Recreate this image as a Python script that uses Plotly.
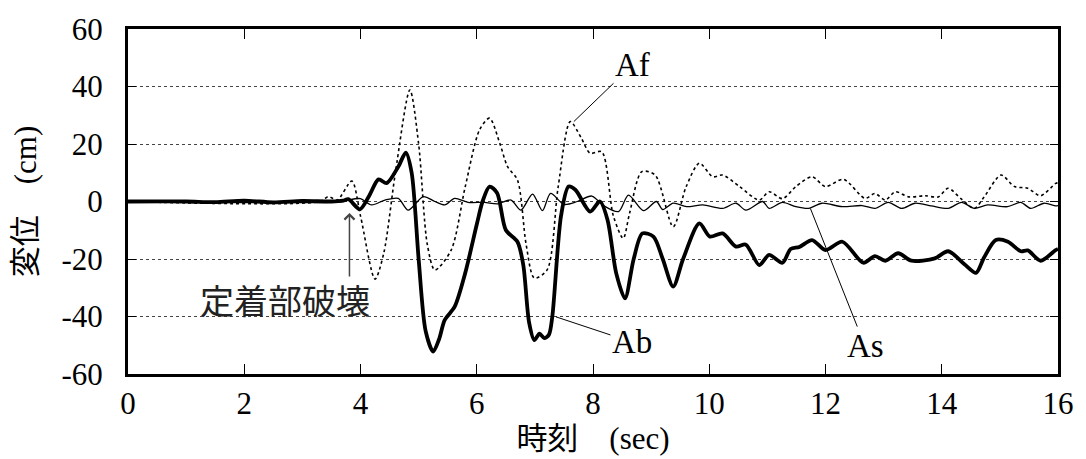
import plotly.graph_objects as go

# ---- data (time in sec, displacement in cm) ----
ab_t = [0, 1.0, 1.5, 2.0, 2.5, 3.0, 3.5, 3.7, 3.79, 3.99, 4.15, 4.31, 4.45, 4.65, 4.78, 4.88, 5.0, 5.12,
        5.25, 5.35, 5.45, 5.62, 5.8, 6.0, 6.1, 6.22, 6.35, 6.5, 6.7, 6.8, 6.9, 6.99, 7.08, 7.16, 7.24,
        7.3, 7.45, 7.58, 7.7, 7.95, 8.12, 8.25, 8.4, 8.55, 8.7, 8.85, 9.04, 9.2, 9.38, 9.55, 9.83,
        10.01, 10.23, 10.46, 10.63, 10.86, 11.03, 11.26, 11.4, 11.55, 11.77, 12.0, 12.29, 12.65, 12.85,
        13.03, 13.25, 13.48, 13.88, 14.11, 14.39, 14.59, 14.73, 14.93, 15.14, 15.36, 15.48, 15.7, 15.96, 16.0]
ab_v = [0, 0, -0.2, 0.3, -0.3, 0.2, 0, 0.3, 0.8, -2.7, 2, 7.7, 6.4, 12.1, 17, 10, -20, -45,
        -52.2, -48, -41.2, -36.6, -25, -8, 0, 5.2, 3, -9.9, -14, -22, -42, -48.2, -46, -47.5, -46.4,
        -40, -5, 5.2, 4, -3.5, 0, -6.4, -25, -33.7, -20, -11.1, -12.2, -20, -29.6, -20, -7.6,
        -12.2, -11.1, -15.7, -15, -22.1, -18.6, -21.3, -16.5, -15.8, -13.4, -16.9, -14, -21.3, -19,
        -20.6, -18, -20.6, -19.8, -17.3, -21.8, -24.8, -19.4, -13.4, -14, -17.3, -17, -20.6, -16.9, -16.5]

af_t = [0, 3.3, 3.45, 3.6, 3.85, 4.0, 4.25, 4.4, 4.6, 4.85, 5.0, 5.15, 5.28, 5.56, 5.8, 6.05, 6.22,
        6.4, 6.53, 6.7, 6.85, 6.99, 7.21, 7.4, 7.61, 7.8, 7.95, 8.15, 8.35, 8.52, 8.63, 8.84, 9.07,
        9.38, 9.6, 9.83, 10.06, 10.23, 10.52, 10.86, 11.03, 11.26, 11.49, 11.77, 12.0, 12.31, 12.68,
        12.85, 13.03, 13.2, 13.43, 13.71, 13.94, 14.11, 14.34, 14.56, 14.73, 15.02, 15.25, 15.48,
        15.7, 15.96, 16.0]
af_v = [0, 0, 1.7, 0.5, 7.1, -5, -27, -18, 10, 38.8, 20, -15, -23.8, -16.9, 5, 25, 29,
        20, 12.1, 7.5, -15, -26.6, -23.8, 5, 27.8, 22, 16.8, 17.3, -5, -12.8, -4, 10.4, 9.2,
        -8.8, 5, 13.3, 8.6, 9.2, 5.2, 0.5, 3.4, 1, 5.2, 8.6, 5.2, 7.7, 1.1,
        2.8, 0.5, 3.4, 1.6, 2, 1.6, 4.6, 0.8, -2.4, 1.6, 9.2, 5.2, 4.6,
        2, 6.3, 6.5]

as_t = [0, 3.7, 3.79, 4.0, 4.19, 4.42, 4.65, 4.82, 5.08, 5.28, 5.45, 5.62, 5.85, 6.13, 6.36, 6.59,
        6.76, 6.96, 7.13, 7.27, 7.5, 7.73, 7.98, 8.18, 8.44, 8.61, 8.87, 9.09, 9.2, 9.38, 9.61, 9.89,
        10.23, 10.46, 10.63, 10.92, 11.03, 11.26, 11.49, 11.71, 11.94, 12.29, 12.63, 12.85, 13.08,
        13.31, 13.54, 13.82, 14.11, 14.34, 14.56, 14.79, 15.13, 15.36, 15.53, 15.76, 15.96, 16.0]
as_v = [0, 0, 0.5, 1.0, -1.2, 0.5, 1.1, -3, 1.7, 0, -1.2, 1.1, -0.3, -0.3, -0.8, 0.5,
        -3, 2.6, -3.2, 2.8, -1, 0, 1.9, -1.4, -3.5, 2.2, -3.2, 0, -2.8, -0.6, -1.8, -1.2,
        -2.4, -0.6, -3, 0, -2.4, -0.3, -1.8, -2.4, -0.6, -1.8, -1.4, -2.4, -0.3,
        -2.4, -0.6, -1.5, -2.4, -0.3, -2.4, -1.2, -1.8, -0.3, -2.4, -0.6, -1.5, -1.4]

x_ticks = [0, 2, 4, 6, 8, 10, 12, 14, 16]
y_ticks = [-60, -40, -20, 0, 20, 40, 60]

FONT = "Liberation Serif, Noto Sans CJK JP, serif"

fig = go.Figure()
fig.add_trace(go.Scatter(x=af_t, y=af_v, mode="lines", name="Af",
                         line=dict(color="black", width=1.6, dash="dot", shape="spline", smoothing=0.8)))
fig.add_trace(go.Scatter(x=as_t, y=as_v, mode="lines", name="As",
                         line=dict(color="black", width=1.3, shape="spline", smoothing=0.8)))
fig.add_trace(go.Scatter(x=ab_t, y=ab_v, mode="lines", name="Ab",
                         line=dict(color="black", width=3.8, shape="spline", smoothing=0.8)))

ann_font = dict(family=FONT, size=33, color="black")
fig.add_annotation(x=7.67, y=27.8, ax=8.68, ay=47.5, axref="x", ayref="y", text="Af",
                   showarrow=True, arrowhead=0, arrowwidth=1, arrowcolor="black", font=ann_font)
fig.add_annotation(x=7.36, y=-40.1, ax=8.67, ay=-48.9, axref="x", ayref="y", text="Ab",
                   showarrow=True, arrowhead=0, arrowwidth=1, arrowcolor="black", font=ann_font)
fig.add_annotation(x=11.74, y=-2.4, ax=12.68, ay=-50.3, axref="x", ayref="y", text="As",
                   showarrow=True, arrowhead=0, arrowwidth=1, arrowcolor="black", font=ann_font)
fig.add_annotation(x=3.81, y=-4, ax=3.81, ay=-26.6, axref="x", ayref="y", text="",
                   showarrow=True, arrowhead=4, arrowsize=1.3, arrowwidth=1.5, arrowcolor="#444")
fig.add_annotation(x=2.70, y=-34.0, text="定着部破壊", showarrow=False,
                   font=dict(family="Noto Sans CJK JP", size=34, color="#222"))

fig.update_layout(
    width=1086, height=459,
    margin=dict(l=128, r=22, t=29, b=85),
    paper_bgcolor="white", plot_bgcolor="white",
    showlegend=False,
    font=dict(family=FONT, size=31, color="black"),
)
fig.update_xaxes(
    range=[0, 16], tickvals=x_ticks, ticktext=[str(v) for v in x_ticks],
    tickfont=dict(family=FONT, size=31),
    showgrid=False, zeroline=False,
    showline=True, linewidth=3, linecolor="black", mirror="allticks",
    ticks="inside", ticklen=10, tickwidth=1, tickcolor="black",
    ticklabelstandoff=0,
    title=dict(text="時刻\u3000(sec)", font=dict(family=FONT, size=31), standoff=4),
)
fig.update_yaxes(
    range=[-60, 60], tickvals=y_ticks, ticktext=[str(v) for v in y_ticks],
    tickfont=dict(family=FONT, size=31),
    showgrid=True, gridcolor="#444", gridwidth=1, griddash="dot",
    zeroline=False,
    showline=True, linewidth=3, linecolor="black", mirror="allticks",
    ticks="inside", ticklen=8, tickwidth=1, tickcolor="black",
    ticklabelstandoff=16,
    title=dict(text="変位\u3000(cm)", font=dict(family=FONT, size=31), standoff=16),
)

fig.write_html("out.html", config={"displayModeBar": False},
               post_script="document.body.style.margin='0px';")
